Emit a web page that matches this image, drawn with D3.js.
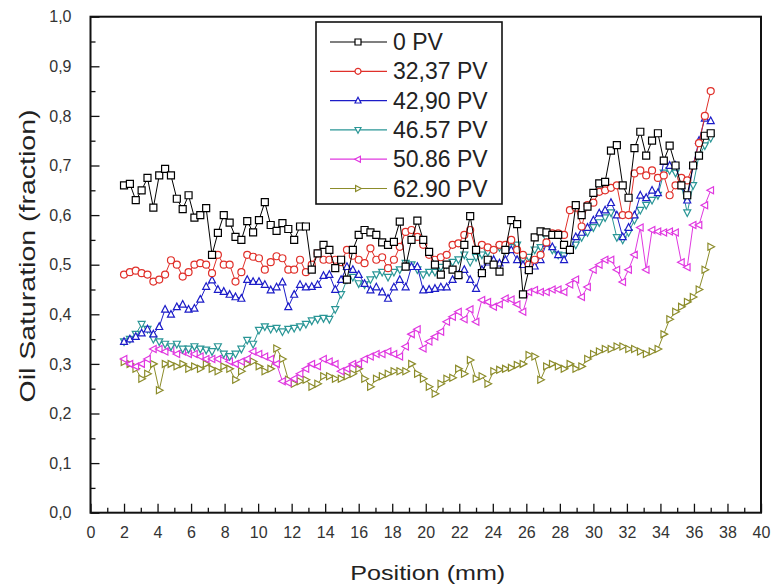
<!DOCTYPE html>
<html><head><meta charset="utf-8">
<script src="https://cdn.jsdelivr.net/npm/d3@7"></script>
<style>body{margin:0;background:#fff}svg{display:block}text{font-family:"Liberation Sans",Arial,sans-serif}</style>
</head><body><svg id="c" width="773" height="585"></svg>
<script>
// scan positions (mm)
const positions = [2,2.35,2.7,3.05,3.4,3.75,4.1,4.45,4.8,5.15,5.5,5.85,6.2,6.55,6.9,7.25,7.6,7.95,8.3,8.65,9,9.35,9.7,10.05,10.4,10.75,11.1,11.45,11.8,12.15,12.5,12.85,13.2,13.55,13.9,14.25,14.6,14.95,15.3,15.65,16,16.35,16.7,17.05,17.4,17.75,18.1,18.45,18.8,19.15,19.5,19.85,20.2,20.55,20.9,21.25,21.6,21.95,22.3,22.65,23,23.35,23.7,24.05,24.4,24.75,25.1,25.45,25.8,26.15,26.5,26.85,27.2,27.55,27.9,28.25,28.6,28.95,29.3,29.65,30,30.35,30.7,31.05,31.4,31.75,32.1,32.45,32.8,33.15,33.5,33.85,34.2,34.55,34.9,35.25,35.6,35.95,36.3,36.65,37];

const seriesNames = ["0 PV","32,37 PV","42,90 PV","46.57 PV","50.86 PV","62.90 PV"];

const pv0 = [.66,.663,.63,.65,.675,.615,.68,.693,.68,.633,.612,.64,.595,.60,.614,.52,.564,.60,.585,.556,.55,.588,.565,.59,.626,.58,.568,.584,.572,.55,.577,.577,.49,.523,.54,.53,.493,.51,.47,.53,.56,.57,.565,.56,.545,.54,.546,.587,.496,.55,.589,.55,.526,.50,.48,.50,.49,.479,.54,.598,.53,.483,.51,.50,.486,.53,.59,.582,.44,.489,.555,.567,.565,.56,.56,.54,.53,.62,.60,.617,.645,.664,.667,.73,.741,.66,.635,.735,.768,.72,.75,.765,.71,.74,.70,.66,.64,.70,.72,.76,.765];

const pv3237 = [.48,.485,.488,.483,.48,.466,.47,.48,.509,.50,.476,.485,.50,.503,.50,.483,.52,.50,.50,.466,.485,.52,.516,.513,.49,.505,.517,.513,.49,.49,.51,.485,.50,.523,.51,.51,.51,.505,.53,.518,.51,.503,.533,.51,.515,.493,.51,.536,.566,.57,.556,.54,.52,.51,.515,.52,.54,.543,.56,.57,.53,.54,.535,.53,.54,.54,.55,.53,.52,.50,.51,.52,.545,.563,.563,.56,.61,.615,.577,.62,.625,.647,.65,.655,.66,.60,.60,.684,.69,.68,.69,.675,.68,.64,.66,.675,.67,.70,.745,.80,.85];

const pv4290 = [.345,.35,.355,.362,.37,.36,.375,.41,.40,.415,.42,.41,.412,.43,.456,.469,.45,.446,.44,.435,.432,.47,.466,.466,.46,.449,.455,.465,.415,.44,.46,.455,.456,.46,.478,.48,.45,.47,.496,.49,.48,.462,.449,.455,.445,.432,.455,.47,.455,.496,.496,.449,.45,.452,.455,.455,.47,.48,.49,.47,.452,.49,.505,.51,.503,.51,.53,.51,.50,.49,.497,.51,.543,.536,.52,.51,.53,.556,.565,.575,.59,.604,.61,.625,.60,.556,.575,.60,.64,.635,.65,.645,.708,.70,.70,.66,.63,.70,.75,.795,.79];

const pv4657 = [.345,.35,.36,.38,.37,.35,.345,.34,.335,.34,.33,.33,.335,.33,.328,.325,.335,.32,.315,.32,.33,.348,.34,.368,.375,.37,.372,.365,.37,.372,.375,.38,.387,.39,.392,.39,.41,.44,.47,.475,.462,.46,.47,.48,.485,.475,.485,.49,.503,.50,.49,.48,.485,.485,.495,.50,.505,.51,.52,.505,.515,.52,.525,.53,.535,.53,.535,.54,.51,.515,.53,.535,.553,.53,.52,.518,.53,.54,.555,.565,.575,.585,.595,.605,.555,.55,.565,.59,.61,.62,.63,.64,.685,.69,.685,.66,.605,.66,.72,.74,.755];

const pv5086 = [.31,.30,.295,.30,.31,.33,.33,.325,.33,.32,.325,.32,.32,.315,.31,.31,.31,.315,.305,.30,.305,.31,.325,.32,.315,.31,.30,.265,.262,.27,.28,.29,.30,.295,.31,.305,.30,.285,.29,.30,.30,.31,.315,.32,.32,.325,.32,.315,.335,.36,.37,.331,.345,.355,.365,.385,.395,.405,.39,.41,.385,.429,.425,.415,.42,.432,.43,.42,.405,.445,.449,.445,.445,.45,.45,.445,.46,.47,.435,.455,.49,.50,.51,.51,.49,.465,.49,.52,.575,.49,.57,.567,.565,.567,.565,.505,.495,.58,.58,.62,.65];

const pv6290 = [.304,.30,.29,.27,.28,.30,.247,.30,.30,.295,.30,.29,.295,.29,.30,.29,.285,.295,.29,.268,.285,.30,.305,.295,.285,.29,.331,.31,.268,.26,.265,.268,.254,.26,.275,.275,.27,.27,.275,.28,.29,.27,.254,.27,.275,.28,.285,.285,.285,.30,.28,.27,.254,.24,.26,.27,.272,.29,.28,.308,.27,.275,.26,.285,.288,.29,.292,.298,.30,.318,.315,.268,.295,.30,.295,.29,.30,.29,.295,.31,.32,.325,.33,.33,.335,.335,.33,.33,.325,.32,.325,.33,.36,.39,.405,.415,.425,.435,.45,.49,.536];

const xMajorTicks = [0,2,4,6,8,10,12,14,16,18,20,22,24,26,28,30,32,34,36,38,40];
const yMajorTicks = [0,0.1,0.2,0.3,0.4,0.5,0.6,0.7,0.8,0.9,1.0];

const seriesValues = [pv0, pv3237, pv4290, pv4657, pv5086, pv6290];
const colors = ["#000000","#e0302a","#1c1cc8","#2a9696","#e038e0","#8c8c2a"];
const symbols = ["square","circle","triUp","triDown","triLeft","triRight"];

const svg = d3.select("#c");
const L=90.5, R=761, T=16.7, B=512.7;
const x = d3.scaleLinear().domain([0,40]).range([L,R]);
const y = d3.scaleLinear().domain([0,1]).range([B,T]);

function symPath(type, s){
  const h=s/2;
  switch(type){
    case "square": return `M${-h},${-h}h${s}v${s}h${-s}Z`;
    case "circle": return `M${h},0A${h},${h} 0 1,1 ${-h},0A${h},${h} 0 1,1 ${h},0Z`;
    case "triUp": return `M0,${-h*1.1}L${h},${h*0.8}L${-h},${h*0.8}Z`;
    case "triDown": return `M0,${h*1.1}L${h},${-h*0.8}L${-h},${-h*0.8}Z`;
    case "triLeft": return `M${-h*1.1},0L${h*0.8},${-h}L${h*0.8},${h}Z`;
    case "triRight": return `M${h*1.1},0L${-h*0.8},${-h}L${-h*0.8},${h}Z`;
  }
}

// axes
const fmtY = d => d3.format(".1f")(d).replace(".", ",");
const xAxis = d3.axisBottom(x).tickValues(xMajorTicks).tickSize(-9).tickPadding(14).tickFormat(d3.format("d"));
svg.append("g").attr("transform",`translate(0,${B})`).call(xAxis);
const xMinor = d3.axisBottom(x).tickValues(d3.range(1,40,2)).tickSize(-5).tickFormat("");
svg.append("g").attr("transform",`translate(0,${B})`).call(xMinor);
const yAxis = d3.axisLeft(y).tickValues(yMajorTicks).tickSize(-9).tickPadding(19).tickFormat(fmtY);
svg.append("g").attr("transform",`translate(${L},0)`).call(yAxis);
const yMinor = d3.axisLeft(y).tickValues(d3.range(0.05,1,0.1)).tickSize(-5).tickFormat("");
svg.append("g").attr("transform",`translate(${L},0)`).call(yMinor);
svg.selectAll(".domain").remove();
svg.selectAll(".tick line").attr("stroke","#111").attr("stroke-width",1.3);
svg.selectAll(".tick text").attr("fill","#333").style("font-size","16px");

// series (last drawn on top)
const lineGen = d3.line().x((d,i)=>x(positions[i])).y(d=>y(d));
const order = [5,4,3,2,1,0];
order.forEach(si=>{
  const g = svg.append("g");
  g.append("path").datum(seriesValues[si]).attr("d",lineGen)
    .attr("fill","none").attr("stroke",colors[si]).attr("stroke-width",1);
  g.selectAll("path.m").data(seriesValues[si]).join("path").attr("class","m")
    .attr("transform",(d,i)=>`translate(${x(positions[i])},${y(d)})`)
    .attr("d",symPath(symbols[si], 7))
    .attr("fill","#fff").attr("stroke",colors[si]).attr("stroke-width",1.2);
});

// frame
svg.append("rect").attr("x",L).attr("y",T).attr("width",R-L).attr("height",B-T)
  .attr("fill","none").attr("stroke","#111").attr("stroke-width",2);

// titles
svg.append("text").attr("x",(L+R)/2 + 2).attr("y",580).attr("text-anchor","middle")
  .attr("fill","#222").style("font-size","21px")
  .attr("textLength",155).attr("lengthAdjust","spacingAndGlyphs").text("Position (mm)");
svg.append("text").attr("transform",`translate(35,256) rotate(-90)`).attr("text-anchor","middle")
  .attr("fill","#222").style("font-size","22px")
  .attr("textLength",293).attr("lengthAdjust","spacingAndGlyphs").text("Oil Saturation (fraction)");

// legend
const lg = svg.append("g");
lg.append("rect").attr("x",316).attr("y",22).attr("width",186).attr("height",182)
  .attr("fill","#fff").attr("stroke","#111").attr("stroke-width",1.6);
seriesNames.forEach((nm,i)=>{
  const yy = 42 + i*29.3;
  lg.append("line").attr("x1",330).attr("x2",387).attr("y1",yy).attr("y2",yy)
    .attr("stroke",colors[i]).attr("stroke-width",1.2);
  lg.append("path").attr("transform",`translate(358,${yy})`).attr("d",symPath(symbols[i],6))
    .attr("fill","#fff").attr("stroke",colors[i]).attr("stroke-width",1.2);
  lg.append("text").attr("x",393).attr("y",yy+8).attr("fill","#222")
    .style("font-size","23px").text(nm);
});
</script></body></html>
